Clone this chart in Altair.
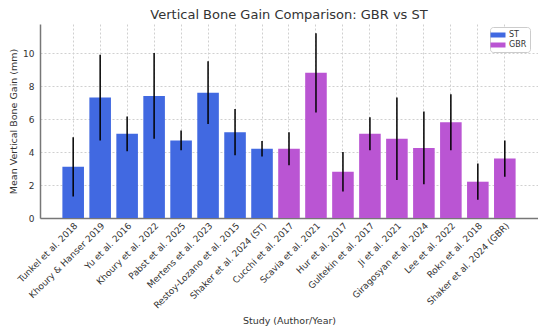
import altair as alt
import pandas as pd

studies = ["Tunkel et al. 2018", "Khoury & Hanser 2019", "Yu et al. 2016", "Khoury et al. 2022",
           "Pabst et al. 2025", "Mertens et al. 2023", "Restoy-Lozano et al. 2015", "Shaker et al. 2024 (ST)",
           "Cucchi et al. 2017", "Scavia et al. 2021", "Hur et al. 2017", "Gultekin et al. 2017",
           "Ji et al. 2021", "Giragosyan et al. 2024", "Lee et al. 2022", "Rokn et al. 2018",
           "Shaker et al. 2024 (GBR)"]
means = [3.1, 7.3, 5.1, 7.4, 4.7, 7.6, 5.2, 4.2,
         4.2, 8.8, 2.8, 5.1, 4.8, 4.25, 5.8, 2.2, 3.6]
sds = [1.8, 2.6, 1.05, 2.6, 0.6, 1.9, 1.4, 0.47,
       1.0, 2.4, 1.2, 1.0, 2.5, 2.2, 1.7, 1.1, 1.1]
groups = ["ST"] * 8 + ["GBR"] * 9

df = pd.DataFrame({"study": studies, "mean": means, "sd": sds, "group": groups})
df["lo"] = df["mean"] - df["sd"]
df["hi"] = df["mean"] + df["sd"]

FONT = "DejaVu Sans"

x_axis = alt.Axis(labelAngle=-45, labelAlign="right", labelBaseline="top",
                  labelFontSize=9, labelPadding=3, titlePadding=6,
                  grid=True, gridDash=[2, 2], gridColor="#d0d0d0", ticks=False,
                  domainColor="#777", domainWidth=1.5, labelColor="#333",
                  titleFontSize=9.5, titleFontWeight="normal", titleColor="#333")
y_axis = alt.Axis(values=[0, 2, 4, 6, 8, 10], grid=True, gridDash=[2, 2],
                  gridColor="#d0d0d0", ticks=False, domainColor="#777", domainWidth=1.5,
                  labelFontSize=9, labelColor="#333", labelPadding=6, labelOverlap=False,
                  titleFontSize=9.5, titleFontWeight="normal", titleColor="#333",
                  titlePadding=4)

x_scale = alt.Scale(paddingInner=0.2, paddingOuter=0.83)
y_scale = alt.Scale(domain=[0, 11.76], nice=False)
Y_TITLE = "Mean Vertical Bone Gain (mm)"
X_TITLE = "Study (Author/Year)"

bars = alt.Chart(df).mark_bar().encode(
    x=alt.X("study:N", sort=None, title=X_TITLE, scale=x_scale, axis=x_axis),
    y=alt.Y("mean:Q", scale=y_scale, title=Y_TITLE, axis=y_axis),
    color=alt.Color("group:N", sort=["ST", "GBR"],
                    scale=alt.Scale(domain=["ST", "GBR"], range=["#4169E1", "#BA55D3"]),
                    legend=alt.Legend(title=None, orient="none", legendX=450, legendY=3,
                                      symbolType="M-1.5,-0.5H1.5V0.5H-1.5Z", symbolSize=100,
                                      symbolStrokeWidth=0, labelFontSize=8, labelColor="#333",
                                      strokeColor="#ccc", fillColor="white", padding=3,
                                      cornerRadius=3, rowPadding=1, labelOffset=6)),
)

errs = alt.Chart(df).mark_rule(color="black", strokeWidth=1.5).encode(
    x=alt.X("study:N", sort=None, title=X_TITLE, scale=x_scale, axis=x_axis),
    y=alt.Y("lo:Q", scale=y_scale, title=Y_TITLE, axis=y_axis),
    y2="hi:Q",
)

chart = (bars + errs).properties(
    width=498, height=194,
    padding={"left": 0, "top": 1, "right": 0, "bottom": 0},
    title=alt.TitleParams("Vertical Bone Gain Comparison: GBR vs ST", fontSize=13,
                          font=FONT, fontWeight="normal", color="#333", anchor="middle", offset=2),
).configure(font=FONT).configure_view(stroke=None).configure_axis(labelFont=FONT, titleFont=FONT)

chart.save("out.html", embed_options={"renderer": "svg", "actions": False})
